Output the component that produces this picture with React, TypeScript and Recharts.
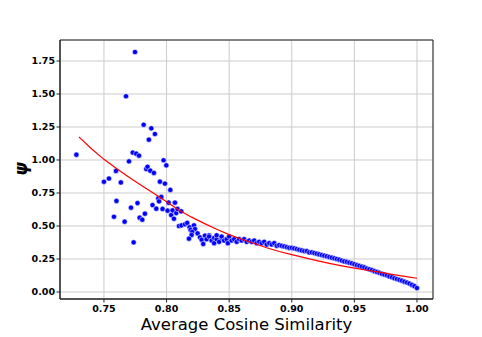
import React from 'react';
import { ScatterChart, Scatter, XAxis, YAxis, CartesianGrid, Label, ReferenceArea } from 'recharts';

// scattered points, x = average cosine similarity, y = psi
const sparsePoints: [number, number][] = [
  [0.728, 1.04], [0.75, 0.835], [0.754, 0.86], [0.758, 0.57], [0.76, 0.69], [0.7596, 0.917],
  [0.7635, 0.83], [0.7665, 0.533], [0.7676, 1.483], [0.77, 0.99], [0.7716, 0.639], [0.773, 1.056],
  [0.7737, 0.376], [0.7748, 1.818], [0.7758, 1.048], [0.7768, 0.674], [0.778, 1.033], [0.7785, 0.563],
  [0.7806, 0.548], [0.7817, 1.267], [0.7827, 0.593], [0.7838, 0.932], [0.7848, 0.949], [0.7859, 1.154],
  [0.787, 0.919], [0.7878, 1.24], [0.7888, 0.659], [0.7899, 0.902], [0.7907, 1.197], [0.7918, 0.631],
  [0.7934, 0.709], [0.794, 0.687], [0.7947, 0.836], [0.7958, 0.72], [0.7968, 0.629], [0.7976, 0.998],
  [0.7987, 0.821], [0.7998, 0.96], [0.8008, 0.616], [0.8016, 0.677], [0.803, 0.773], [0.8037, 0.583],
  [0.8048, 0.619], [0.8059, 0.555], [0.8067, 0.677], [0.8077, 0.598], [0.8088, 0.629], [0.8117, 0.611],
  [0.8099, 0.5], [0.812, 0.505], [0.8147, 0.513], [0.8165, 0.523], [0.8184, 0.49], [0.8219, 0.505],
  [0.8192, 0.47], [0.8227, 0.477], [0.8205, 0.455], [0.8248, 0.444], [0.82, 0.432], [0.8179, 0.404],
  [0.8267, 0.414], [0.828, 0.396], [0.8293, 0.364], [0.8307, 0.427],
];

// dense tail of points
const tailPoints: [number, number][] = [
  [0.832, 0.4], [0.834, 0.43], [0.834, 0.42], [0.836, 0.39], [0.838, 0.41], [0.838, 0.37],
  [0.84, 0.4], [0.84, 0.43], [0.842, 0.38], [0.844, 0.41], [0.844, 0.42], [0.846, 0.39],
  [0.848, 0.4], [0.849, 0.37], [0.85, 0.42], [0.852, 0.39], [0.854, 0.4], [0.856, 0.38],
  [0.858, 0.4], [0.86, 0.39], [0.862, 0.4], [0.864, 0.38], [0.866, 0.39], [0.868, 0.38],
  [0.87, 0.39], [0.872, 0.37], [0.874, 0.38], [0.876, 0.37], [0.878, 0.38], [0.88, 0.36],
  [0.882, 0.37], [0.884, 0.36], [0.886, 0.37], [0.888, 0.35], [0.89, 0.355], [0.892, 0.35],
  [0.894, 0.345], [0.896, 0.34], [0.898, 0.335], [0.9, 0.335], [0.902, 0.33], [0.904, 0.325],
  [0.906, 0.32], [0.908, 0.315], [0.91, 0.31], [0.912, 0.31], [0.914, 0.3], [0.916, 0.3],
  [0.918, 0.295], [0.92, 0.29], [0.922, 0.285], [0.924, 0.28], [0.926, 0.275], [0.928, 0.27],
  [0.93, 0.265], [0.932, 0.26], [0.934, 0.255], [0.936, 0.25], [0.938, 0.245], [0.94, 0.238],
  [0.942, 0.232], [0.944, 0.228], [0.946, 0.222], [0.948, 0.217], [0.95, 0.21], [0.952, 0.203],
  [0.954, 0.198], [0.956, 0.192], [0.958, 0.186], [0.96, 0.178], [0.962, 0.172], [0.964, 0.166],
  [0.966, 0.158], [0.968, 0.152], [0.97, 0.146], [0.972, 0.138], [0.974, 0.132], [0.976, 0.126],
  [0.978, 0.118], [0.98, 0.112], [0.982, 0.104], [0.984, 0.098], [0.986, 0.092], [0.988, 0.086],
  [0.99, 0.078], [0.992, 0.072], [0.994, 0.064], [0.996, 0.054], [0.998, 0.044], [1.0, 0.03],
];

// fitted curve
const fitX = [0.73, 0.74, 0.75, 0.76, 0.77, 0.78, 0.79, 0.8, 0.81, 0.82, 0.83, 0.84, 0.85, 0.86,
  0.87, 0.88, 0.89, 0.9, 0.91, 0.92, 0.93, 0.94, 0.95, 0.96, 0.97, 0.98, 0.99, 1.0];
const fitY = [1.175, 1.085, 1.005, 0.935, 0.87, 0.807, 0.747, 0.683, 0.62, 0.567, 0.52, 0.475, 0.435, 0.4,
  0.367, 0.335, 0.307, 0.283, 0.26, 0.238, 0.217, 0.198, 0.181, 0.165, 0.15, 0.134, 0.119, 0.104];

const xTicks = [0.75, 0.8, 0.85, 0.9, 0.95, 1.0];
const yTicks = [0, 0.25, 0.5, 0.75, 1.0, 1.25, 1.5, 1.75];

const points = [...sparsePoints, ...tailPoints].map(([x, y]) => ({ x, y }));
const fitLine = fitX.map((x, i) => ({ x, y: fitY[i] }));

const xDomain = [0.7149, 1.0128];
const yDomain = [-0.053, 1.909];

const tickStyle = { fontSize: 9.5, fontWeight: 700, fill: '#000', fontFamily: 'DejaVu Sans' };

const Dot = (props: any) => (
  <circle cx={props.cx} cy={props.cy} r={2.6} fill="#0000ff" stroke="#ffffff" strokeWidth={0.5} />
);

export default function App() {
  return (
    <div style={{ position: 'absolute', left: 0, top: 0, width: 482, height: 337, background: '#fff' }}>
      <ScatterChart width={482} height={337} margin={{ top: 40, right: 49, bottom: 0, left: 0 }}>
        <CartesianGrid stroke="#cbcbcb" strokeWidth={1} />
        <XAxis
          dataKey="x"
          type="number"
          domain={xDomain}
          ticks={xTicks}
          tickFormatter={(v: number) => v.toFixed(2)}
          tick={tickStyle}
          tickSize={3.5}
          tickMargin={3}
          height={38}
          stroke="#222"
          allowDataOverflow
        >
          <Label
            value="Average Cosine Similarity"
            position="insideBottom"
            offset={7.5}
            style={{ fontSize: 16.5, fill: '#000', fontFamily: 'DejaVu Sans' }}
          />
        </XAxis>
        <YAxis
          dataKey="y"
          type="number"
          domain={yDomain}
          ticks={yTicks}
          tickFormatter={(v: number) => v.toFixed(2)}
          tick={tickStyle}
          tickSize={3.5}
          tickMargin={1.5}
          width={60}
          stroke="#222"
          allowDataOverflow
        >
          <Label
            content={() => (
              <text
                x={21}
                y={169}
                transform="rotate(-90 21 169)"
                textAnchor="middle"
                dominantBaseline="central"
                style={{ fontSize: 17, fontWeight: 700, fontStyle: 'italic', fontFamily: 'DejaVu Sans' }}
              >
                ψ
              </text>
            )}
          />
        </YAxis>
        <ReferenceArea
          x1={xDomain[0]}
          x2={xDomain[1]}
          y1={yDomain[0]}
          y2={yDomain[1]}
          fill="none"
          fillOpacity={0}
          stroke="#222"
          strokeWidth={1}
          ifOverflow="visible"
        />
        <Scatter data={points} shape={Dot} isAnimationActive={false} />
        <Scatter
          data={fitLine}
          line={{ stroke: '#ff0000', strokeWidth: 1.2 }}
          lineType="joint"
          shape={() => <g />}
          isAnimationActive={false}
        />
      </ScatterChart>
    </div>
  );
}
